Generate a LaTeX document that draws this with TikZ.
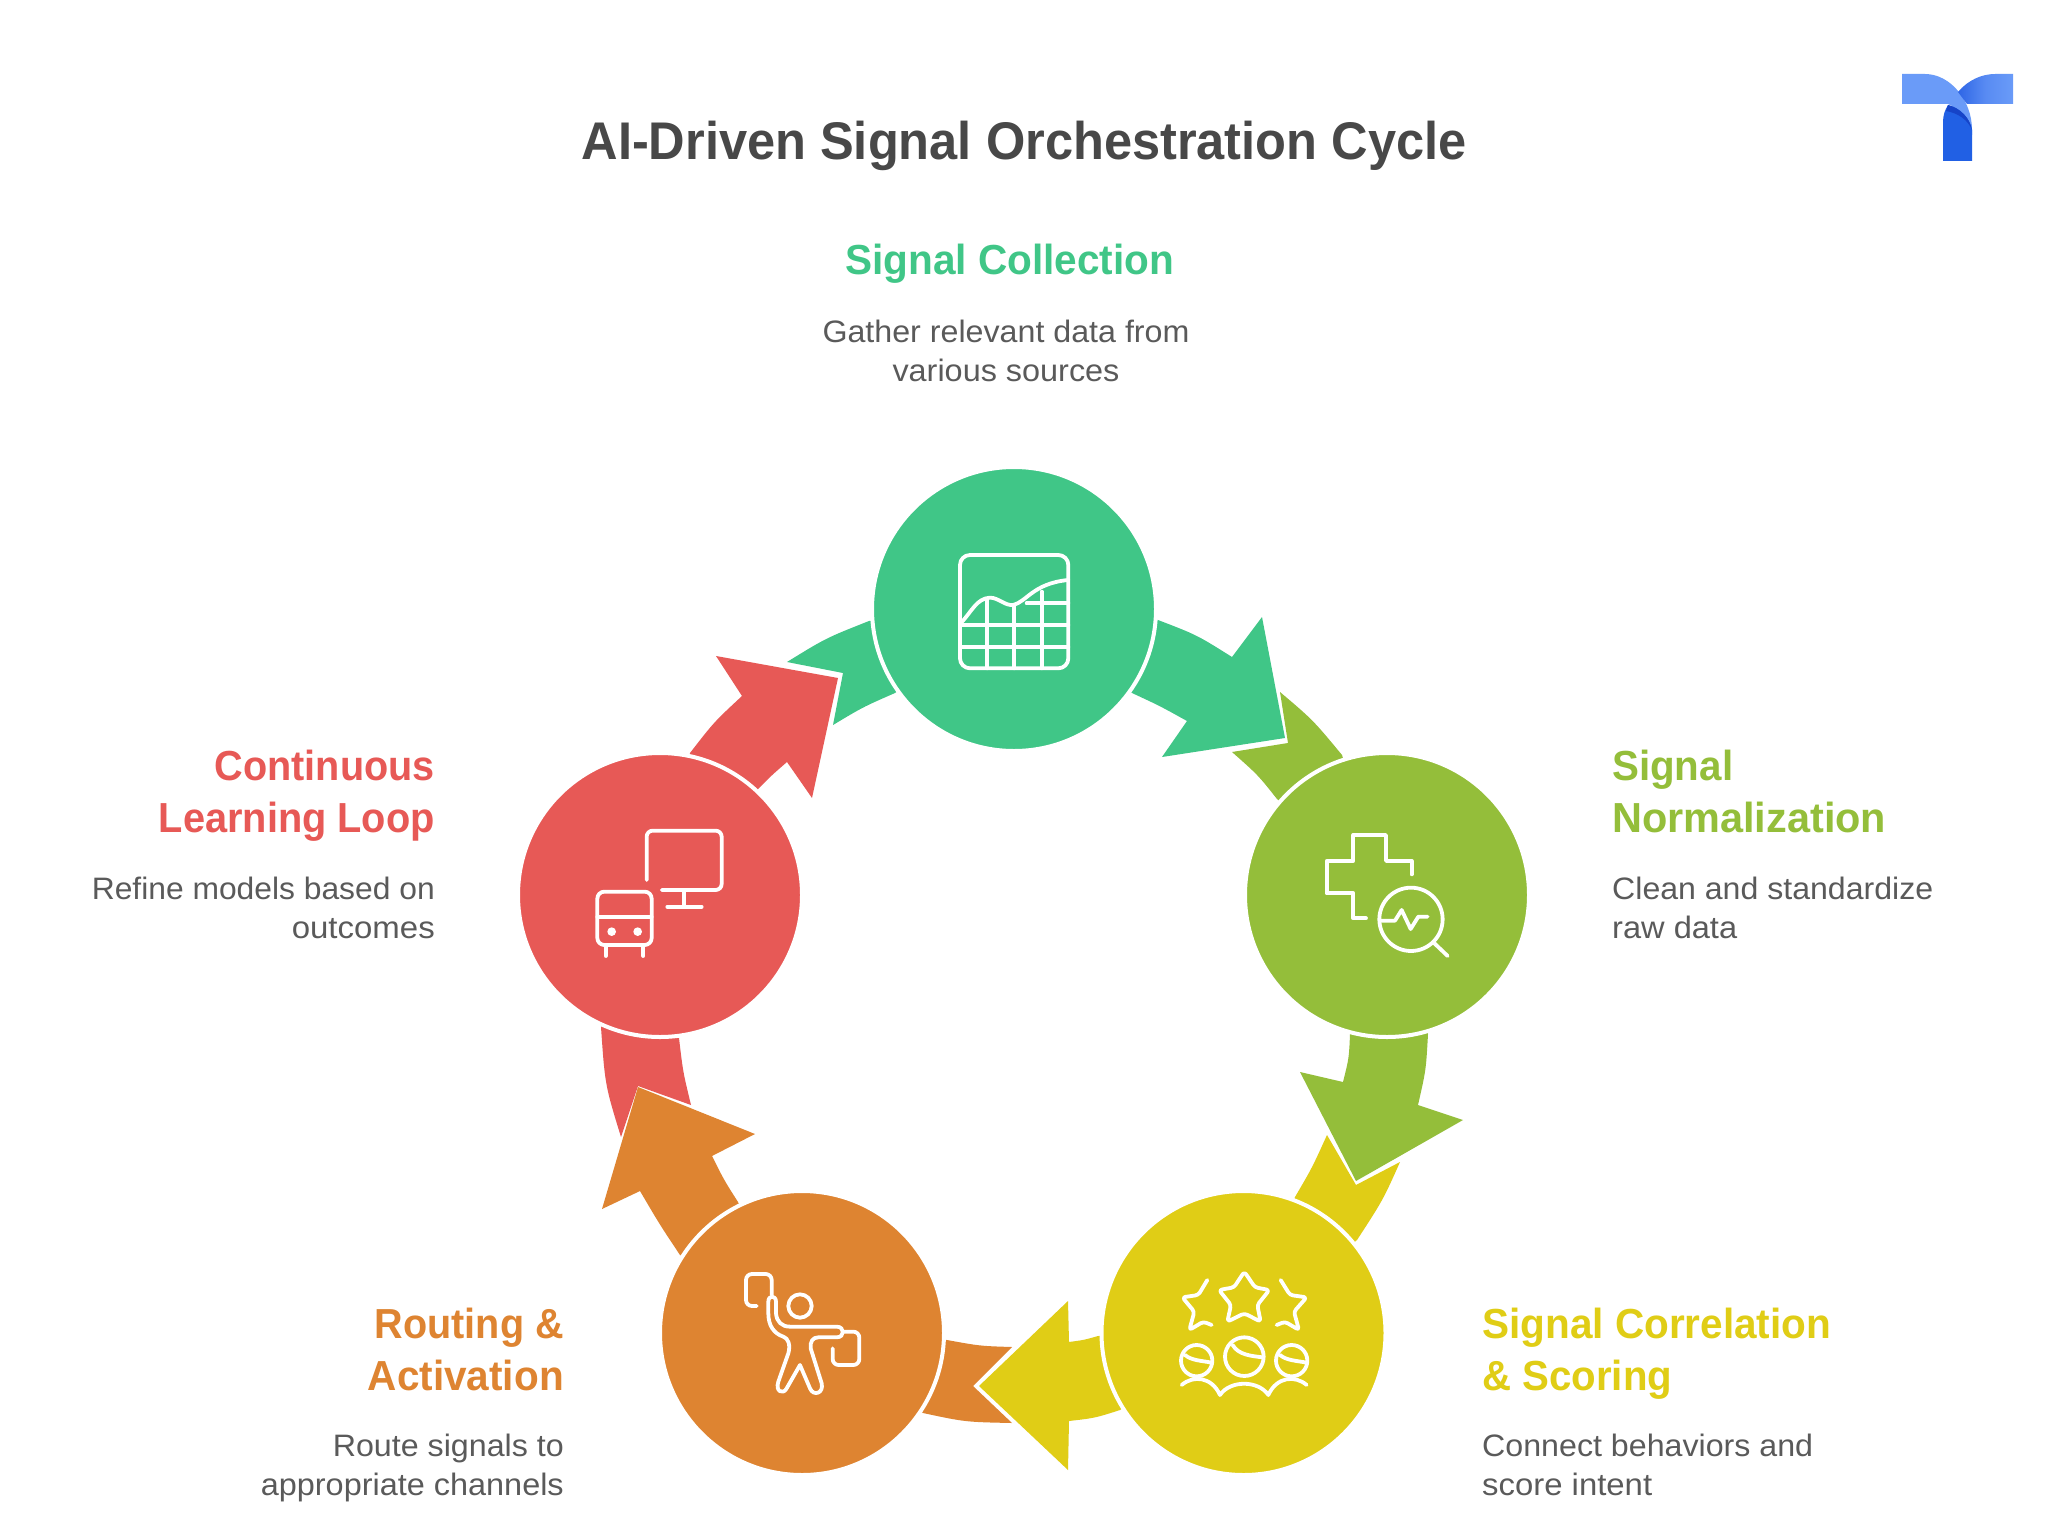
\documentclass[tikz,border=0pt]{standalone}
\usepackage{fontspec}
\usepackage{graphicx}
\setmainfont{Liberation Sans}
\usetikzlibrary{backgrounds}
\definecolor{cgreen}{HTML}{40C687}
\definecolor{colive}{HTML}{94BE3A}
\definecolor{cyellow}{HTML}{E0CD16}
\definecolor{corange}{HTML}{DE8431}
\definecolor{cred}{HTML}{E75956}
\definecolor{ctitle}{HTML}{484848}
\definecolor{cdesc}{HTML}{5A5A5A}
\definecolor{lgA}{HTML}{6A9BF8}
\definecolor{lgB}{HTML}{2F66E6}
\definecolor{lgC}{HTML}{2160E4}
\definecolor{lgD}{HTML}{1644C8}
\newcommand{\fitw}[2]{\resizebox{#1pt}{\height}{#2}}
\tikzset{
  stage/.style={circle,fill=#1,draw=white,line width=4pt,minimum size=284pt,inner sep=0pt,outer sep=0pt},
  icon/.style={draw=white,line width=3.8pt,line cap=round,line join=round,fill=none},
  headtext/.style={inner sep=0pt,align=#1,font=\bfseries\fontsize{42}{52}\selectfont},
  desctext/.style={inner sep=0pt,align=#1,text=cdesc,font=\fontsize{31}{39}\selectfont},
}
\begin{document}
\begin{tikzpicture}[x=1pt,y=-1pt]
\useasboundingbox (0,0) rectangle (2048,1536);
\node[stage=cgreen]  (ng) at (1014,609) {};
\node[stage=colive]  (no) at (1387,895) {};
\node[stage=cyellow] (ny) at (1243.5,1333) {};
\node[stage=corange] (nr) at (802,1333) {};
\node[stage=cred]    (nd) at (660,895) {};
\begin{pgfonlayer}{background}
\fill[white] (0,0) rectangle (2048,1536);
% tails
\fill[colive] (1280,692) .. controls (1313,720) .. (1342,755) -- (no.center) -- (1277,799) .. controls (1258,775) .. (1232,752) -- (1288,743) -- cycle;
\fill[cyellow] (1327,1135) -- (1356,1185) -- (1400,1162) .. controls (1383,1200) .. (1357,1240) -- (ny.center) -- (1295,1197) .. controls (1312,1168) .. (1327,1135) -- cycle;
\fill[corange] (947,1340) .. controls (980,1346) .. (1012,1347) -- (973,1386) -- (1012,1423) .. controls (965,1422) .. (923,1413) -- (nr.center) -- cycle;
\fill[cred] (601,1027) .. controls (605,1085) .. (621,1137) -- (638,1086) -- (691,1105) .. controls (683,1072) .. (679,1038) -- (nd.center) -- cycle;
\fill[cgreen] (833,725) .. controls (863,707) .. (895,693) -- (ng.center) -- (869,621) .. controls (826,638) .. (787,662) -- (843,673) -- cycle;
% arrows
\fill[cgreen] (ng.center) -- (1158,620) .. controls (1197,635) .. (1232,657) -- (1262,617) -- (1285,738) -- (1162,757) -- (1187,721) .. controls (1160,706) .. (1132,693) -- cycle;
\fill[colive] (no.center) -- (1428,1034) .. controls (1426,1070) .. (1418,1105) -- (1463,1120) -- (1356,1181) -- (1300,1072) -- (1343,1082) .. controls (1349,1058) .. (1350,1034) -- cycle;
\fill[cyellow] (ny.center) -- (1120,1410) .. controls (1095,1418) .. (1069,1421) -- (1068,1470) -- (979,1386) -- (1068,1301) -- (1069,1342) .. controls (1084,1340) .. (1098,1336) -- cycle;
\fill[corange] (nr.center) -- (680,1255) .. controls (660,1225) .. (640,1191) -- (602,1209) -- (638,1087) -- (755,1134) -- (712,1156) .. controls (724,1180) .. (738,1202) -- cycle;
\fill[cred] (nd.center) -- (690,753) .. controls (714,722) .. (742,696) -- (716,656) -- (838,678) -- (812,798) -- (787,762) .. controls (772,775) .. (759,788) -- cycle;
\end{pgfonlayer}
% chart icon
\begin{scope}[shift={(840,450)},x=.3333pt,y=-.3333pt]
\draw[icon,rounded corners=10pt] (360,315) rectangle (685,655);
\draw[icon] (365,525) -- (685,525) (365,592) -- (685,592) (560,460) -- (685,460);
\draw[icon] (442,452) -- (442,655) (523,470) -- (523,655) (605,425) -- (605,655);
\draw[icon] (362,520) .. controls (395,485) and (410,445) .. (450,443) .. controls (475,443) and (495,468) .. (520,465) .. controls (560,455) and (580,400) .. (685,390);
\end{scope}
% plus and magnifier icon
\begin{scope}[shift={(1280,780)},x=.3333pt,y=-.3333pt]
\draw[icon] (395,283) -- (395,243) -- (318,243) -- (318,165) -- (220,165) -- (220,243) -- (140,243) -- (140,340) -- (220,340) -- (220,415) -- (258,415);
\draw[icon] (393,418) circle (95);
\draw[icon] (460,487) -- (503,528);
\draw[icon] (303,422) -- (345,422) -- (365,390) -- (392,447) -- (415,410) -- (443,410);
\end{scope}
% stars and people icon
\begin{scope}[shift={(1150,1240)},x=.3333pt,y=-.3333pt]
\draw[icon,rounded corners=3pt] (283,95) -- (315,142) -- (358,150) -- (322,195) -- (332,245) -- (283,220) -- (232,245) -- (243,195) -- (207,150) -- (252,142) -- cycle;
\draw[icon,rounded corners=3pt] (172,120) -- (145,165) -- (97,172) -- (133,215) -- (118,270) -- (160,245) -- (185,255);
\draw[icon,rounded corners=3pt] (392,120) -- (420,165) -- (470,172) -- (432,215) -- (447,270) -- (405,245) -- (380,255);
\draw[icon] (140,362) circle (47) (283,350) circle (58) (425,362) circle (47);
\draw[icon] (105,345) .. controls (125,362) and (155,362) .. (185,368);
\draw[icon] (248,315) .. controls (265,345) and (305,348) .. (338,352);
\draw[icon] (390,345) .. controls (410,362) and (440,362) .. (470,368);
\draw[icon] (95,435) .. controls (130,405) and (185,410) .. (210,465) .. controls (240,420) and (325,420) .. (355,465) .. controls (380,410) and (435,405) .. (470,435);
\end{scope}
% person icon
\begin{scope}[shift={(720,1250)},x=.3333pt,y=-.3333pt]
\draw[icon,rounded corners=6pt] (110,168) -- (78,168) -- (78,72) -- (155,72) -- (155,135);
\draw[icon] (240,168) circle (35);
\draw[icon] (145,155) .. controls (145,135) and (168,135) .. (168,155) -- (168,190) .. controls (170,215) and (185,230) .. (210,230) -- (350,230) .. controls (375,230) and (375,262) .. (350,262) -- (295,262) .. controls (278,262) and (270,275) .. (272,295) -- (305,400) .. controls (312,430) and (280,440) .. (270,415) -- (240,345) -- (200,415) .. controls (190,435) and (165,425) .. (175,395) -- (205,310) .. controls (212,285) and (205,265) .. (190,260) .. controls (160,250) and (145,225) .. (145,190) -- cycle;
\draw[icon,rounded corners=6pt] (368,245) -- (418,245) -- (418,345) -- (338,345) -- (338,295);
\end{scope}
% monitor and cabinet icon
\begin{scope}[shift={(570,800)},x=.3333pt,y=-.3333pt]
\draw[icon,rounded corners=6pt] (230,240) -- (230,92) -- (455,92) -- (455,270) -- (275,270);
\draw[icon] (342,270) -- (342,320) (292,320) -- (395,320);
\draw[icon,rounded corners=7pt] (82,275) rectangle (245,435);
\draw[icon] (82,350) -- (245,350) (107,435) -- (107,468) (220,435) -- (220,468);
\fill[white] (125,395) circle (13) (203,395) circle (13);
\end{scope}
% logo
\fill[lgA] (1902,74) -- (1925,74) .. controls (1950,74) and (1972,100) .. (1972,130) -- (1972,135) .. controls (1966,118) and (1958,108) .. (1948,104) -- (1902,104) -- cycle;
\shade[left color=lgB,right color=lgA,middle color=lgA!70!lgB] (1958,92) .. controls (1968,80) and (1982,74) .. (1995,74) -- (2013,74) -- (2013,104) -- (1967,104) -- cycle;
\fill[lgC] (1943,161) -- (1943,122) .. controls (1943,115) and (1945,110) .. (1948,105) .. controls (1960,108) and (1970,118) .. (1972,130) -- (1972,161) -- cycle;
\fill[lgD] (1948,105) .. controls (1960,108) and (1970,118) .. (1972,130) .. controls (1968,120) and (1958,113) .. (1946,111) -- cycle;
% title and labels
\node[anchor=base,inner sep=0pt,text=ctitle,font=\bfseries\fontsize{53}{60}\selectfont] (title) at (1024,159) {\fitw{885}{AI-Driven Signal Orchestration Cycle}};
\node[anchor=base west,headtext=left,text=cgreen] (h1) at (845,274) {\fitw{329}{Signal Collection}};
\node[anchor=base,desctext=center] (d1) at (1006,381) {\fitw{367}{Gather relevant data from}\\\fitw{227}{various sources}};
\node[anchor=base west,headtext=left,text=colive] (h2) at (1612,832) {\fitw{121}{Signal}\\\fitw{274}{Normalization}};
\node[anchor=base west,desctext=left] (d2) at (1612,938) {\fitw{321}{Clean and standardize}\\\fitw{125}{raw data}};
\node[anchor=base west,headtext=left,text=cyellow] (h3) at (1482,1390) {\fitw{349}{Signal Correlation}\\\fitw{190}{\& Scoring}};
\node[anchor=base west,desctext=left] (d3) at (1482,1495) {\fitw{331}{Connect behaviors and}\\\fitw{170}{score intent}};
\node[anchor=base east,headtext=right,text=corange] (h4) at (564,1390) {\fitw{189}{Routing \&}\\\fitw{196}{Activation}};
\node[anchor=base east,desctext=right] (d4) at (564,1495) {\fitw{231}{Route signals to}\\\fitw{303}{appropriate channels}};
\node[anchor=base east,headtext=right,text=cred] (h5) at (435,832) {\fitw{220}{Continuous}\\\fitw{276}{Learning Loop}};
\node[anchor=base east,desctext=right] (d5) at (435,938) {\fitw{343}{Refine models based on}\\\fitw{143}{outcomes}};
\end{tikzpicture}
\end{document}
